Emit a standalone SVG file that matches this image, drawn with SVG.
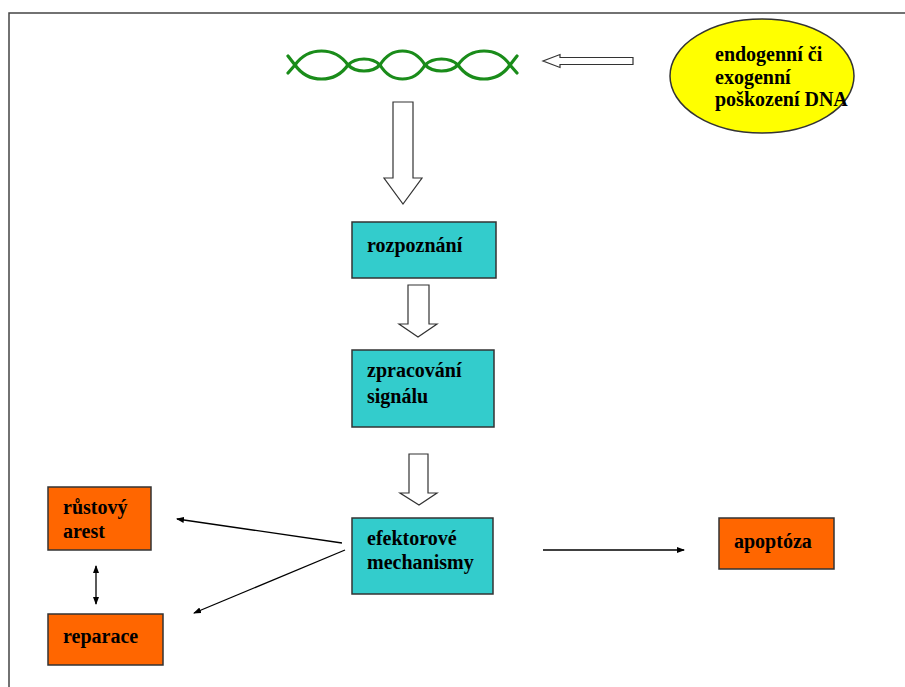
<svg xmlns="http://www.w3.org/2000/svg" width="905" height="687" viewBox="0 0 905 687">
  <style>
    .lbl { font-family: "Liberation Serif", "Times New Roman", serif; font-weight: bold; font-size: 20px; fill: #000; }
    .teal { fill: #33CCCC; stroke: #333; stroke-width: 1.5; }
    .orange { fill: #FF6600; stroke: #333; stroke-width: 1.5; }
    .hollow { fill: #fff; stroke: #333; stroke-width: 1.2; }
    .thin { fill: none; stroke: #000; stroke-width: 1.3; }
    .dna { fill: none; stroke: #1a8c1a; stroke-width: 3.2; stroke-linecap: round; stroke-linejoin: round; }
  </style>
  <defs>
    <marker id="ah" markerWidth="8" markerHeight="6" refX="7" refY="3" orient="auto" markerUnits="userSpaceOnUse">
      <path d="M0,0 L8,3 L0,6 z" fill="#000"/>
    </marker>
    <marker id="ahs" markerWidth="8" markerHeight="6" refX="1" refY="3" orient="auto" markerUnits="userSpaceOnUse">
      <path d="M8,0 L0,3 L8,6 z" fill="#000"/>
    </marker>
  </defs>
  <rect width="905" height="687" fill="#fff"/>
  <!-- frame -->
  <path d="M9,687 L9,13 L905,13" fill="none" stroke="#444" stroke-width="1.5"/>

  <g id="dna">
    <path class="dna" d="M288,56 L295,65 C308.25,83.7 334.75,83.7 348,65 C356,57 372,57 380,65 C391.25,83.7 413.75,83.7 425,65 C433.25,57 449.75,57 458,65 C471,83.7 497,83.7 510,65 L517,56"/>
    <path class="dna" d="M288,73 L295,65 C308.25,46.3 334.75,46.3 348,65 C356,73 372,73 380,65 C391.25,46.3 413.75,46.3 425,65 C433.25,73 449.75,73 458,65 C471,46.3 497,46.3 510,65 L517,73"/>
  </g>

  <g id="damage">
    <ellipse cx="762" cy="76" rx="92" ry="57" fill="#FFFF00" stroke="#333" stroke-width="1.5"/>
    <text class="lbl" x="715" y="61">endogenní či</text>
    <text class="lbl" x="715" y="84">exogenní</text>
    <text class="lbl" x="715" y="106">poškození DNA</text>
  </g>

  <g id="rozpoznani">
    <rect class="teal" x="352" y="222" width="144" height="56"/>
    <text class="lbl" x="367" y="252">rozpoznání</text>
  </g>

  <g id="zpracovani">
    <rect class="teal" x="352" y="350" width="142" height="77"/>
    <text class="lbl" x="367" y="377">zpracování</text>
    <text class="lbl" x="367" y="403">signálu</text>
  </g>

  <g id="efektorove">
    <rect class="teal" x="352" y="518" width="141" height="76"/>
    <text class="lbl" x="367" y="545">efektorové</text>
    <text class="lbl" x="367" y="569">mechanismy</text>
  </g>

  <g id="rustovy">
    <rect class="orange" x="48" y="487" width="103" height="63"/>
    <text class="lbl" x="63" y="514">růstový</text>
    <text class="lbl" x="63" y="538">arest</text>
  </g>

  <g id="reparace">
    <rect class="orange" x="48" y="614" width="115" height="51"/>
    <text class="lbl" x="63" y="643">reparace</text>
  </g>

  <g id="apoptoza">
    <rect class="orange" x="719" y="518" width="115" height="51"/>
    <text class="lbl" x="734" y="548">apoptóza</text>
  </g>

  <g id="connectors">
    <!-- hollow block arrows -->
    <path class="hollow" d="M633,57.5 L560,57.5 L560,54.5 L543,61 L560,67.5 L560,64.5 L633,64.5 Z"/>
    <path class="hollow" d="M393,102 L413,102 L413,178 L422,178 L403,204 L384,178 L393,178 Z"/>
    <path class="hollow" d="M408,285 L429,285 L429,324 L437,324 L418,337 L399,324 L408,324 Z"/>
    <path class="hollow" d="M409,454 L428,454 L428,493 L437,493 L419,505 L400,493 L409,493 Z"/>
    <!-- thin arrows -->
    <line class="thin" x1="342" y1="543" x2="177" y2="519" marker-end="url(#ah)"/>
    <line class="thin" x1="345" y1="550" x2="194" y2="613" marker-end="url(#ah)"/>
    <line class="thin" x1="96" y1="566" x2="96" y2="604" marker-start="url(#ahs)" marker-end="url(#ah)"/>
    <line class="thin" x1="543" y1="550" x2="684" y2="550" marker-end="url(#ah)"/>
  </g>
</svg>
